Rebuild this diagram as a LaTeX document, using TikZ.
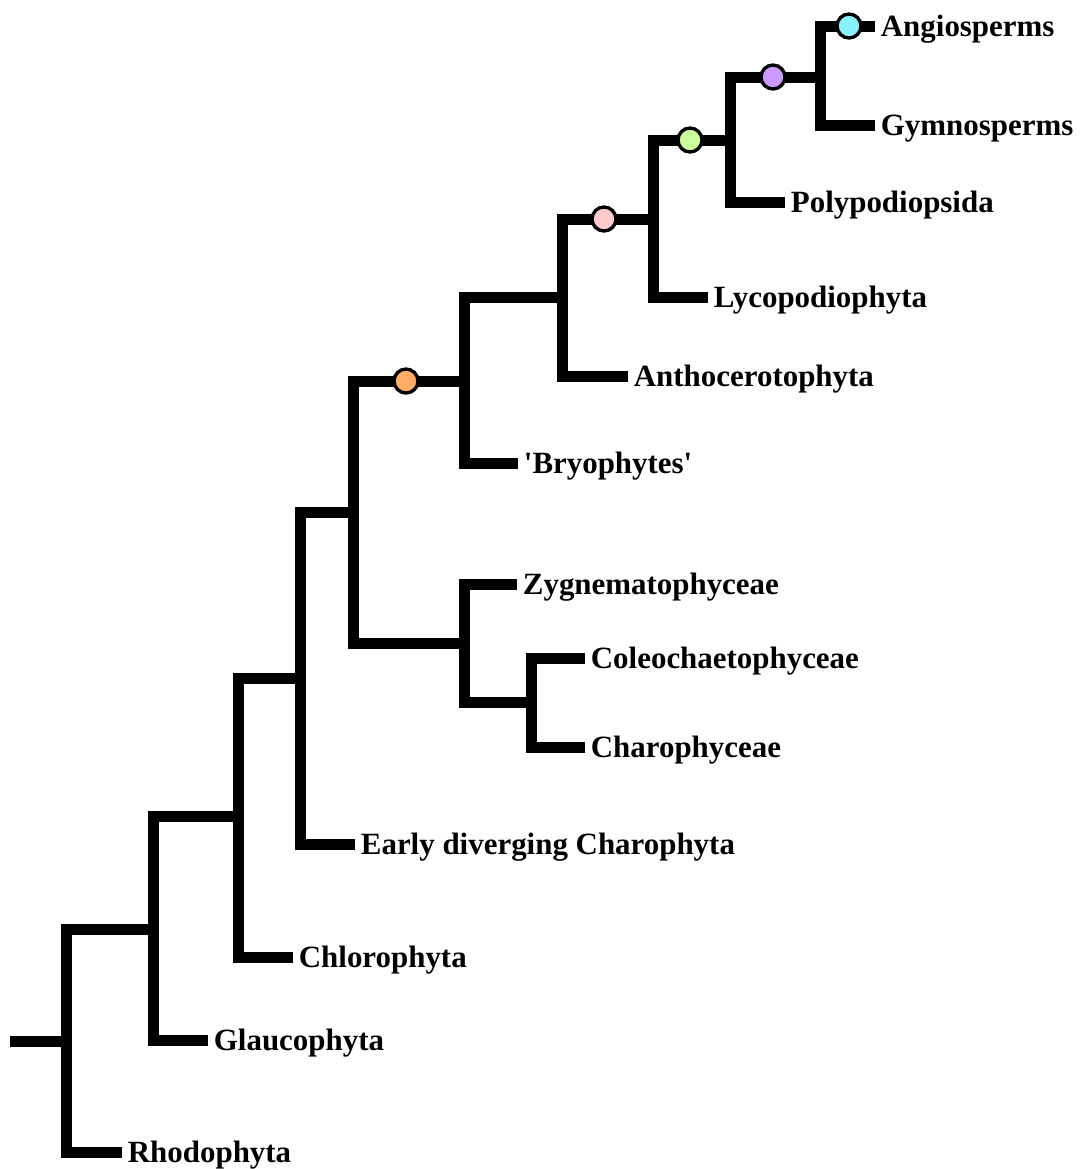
\documentclass[tikz,border=0pt]{standalone}
\usepackage{fontspec}
\setmainfont{Liberation Serif}
\usepackage{tikz}
\usetikzlibrary{calc}
\usepackage{xcolor}
\definecolor{AngioCyan}{RGB}{136,242,250}
\definecolor{SeedPurple}{RGB}{204,153,255}
\definecolor{FernGreen}{RGB}{204,255,153}
\definecolor{VascPink}{RGB}{255,204,204}
\definecolor{LandOrange}{RGB}{255,172,102}
\tikzset{
	branch/.style={black, line width=0.33cm, line join=miter},
	taxon/.style={anchor=west, inner xsep=0.17cm, inner ysep=0pt,
		text height=17.5pt, text depth=0pt,
		font=\fontsize{26.4pt}{30pt}\selectfont\bfseries},
	trait/.style={circle, draw=black, line width=0.1cm,
		minimum size=0.72cm, inner sep=0pt},
}

\begin{document}
\begin{tikzpicture}[x=0.03cm, y=-0.03cm]
	\useasboundingbox (0,0) rectangle (1079,1169);
	
	% Internal nodes
	\coordinate (base) at (10,1041);
	\coordinate (R) at (66,1041);
	\coordinate (B) at (153,929);
	\coordinate (C) at (238,816);
	\coordinate (D) at (300,678);
	\coordinate (E) at (353,512);
	\coordinate (K) at (464,643);
	\coordinate (L) at (531,702);
	\coordinate (F) at (464,381);
	\coordinate (G) at (562,297);
	\coordinate (H) at (653,219);
	\coordinate (I) at (730,140);
	\coordinate (J) at (820,77);
	
	% Taxa
	\node[taxon] (rho) at (122,1152) {Rhodophyta};
	\node[taxon] (gla) at (208,1040) {Glaucophyta};
	\node[taxon] (chl) at (293,957) {Chlorophyta};
	\node[taxon] (edc) at (355,844) {Early diverging Charophyta};
	\node[taxon] (zyg) at (517,584) {Zygnematophyceae};
	\node[taxon] (col) at (585,658) {Coleochaetophyceae};
	\node[taxon] (cha) at (585,747) {Charophyceae};
	\node[taxon] (bry) at (518,463) {\textquotesingle Bryophytes\textquotesingle};
	\node[taxon] (ant) at (628,376) {Anthocerotophyta};
	\node[taxon] (lyc) at (708,297) {Lycopodiophyta};
	\node[taxon] (pol) at (785,202) {Polypodiopsida};
	\node[taxon] (gym) at (875,125) {Gymnosperms};
	\node[taxon] (ang) at (875,26) {Angiosperms};
	
	% Branches
	\draw[branch] (base) -- (R);
	\draw[branch] (R) |- (rho.west);
	\draw[branch] (R) |- (B);
	\draw[branch] (B) |- (gla.west);
	\draw[branch] (B) |- (C);
	\draw[branch] (C) |- (chl.west);
	\draw[branch] (C) |- (D);
	\draw[branch] (D) |- (edc.west);
	\draw[branch] (D) |- (E);
	\draw[branch] (E) |- (K);
	\draw[branch] (K) |- (zyg.west);
	\draw[branch] (K) |- (L);
	\draw[branch] (L) |- (col.west);
	\draw[branch] (L) |- (cha.west);
	\draw[branch] (E) |- (F);
	\draw[branch] (F) |- (bry.west);
	\draw[branch] (F) |- (G);
	\draw[branch] (G) |- (ant.west);
	\draw[branch] (G) |- (H);
	\draw[branch] (H) |- (lyc.west);
	\draw[branch] (H) |- (I);
	\draw[branch] (I) |- (pol.west);
	\draw[branch] (I) |- (J);
	\draw[branch] (J) |- (gym.west);
	\draw[branch] (J) |- (ang.west);
	
	% Character marks
	\node[trait, fill=LandOrange] (m1) at (406,381) {};
	\node[trait, fill=VascPink] (m2) at (604,219) {};
	\node[trait, fill=FernGreen] (m3) at (690,140) {};
	\node[trait, fill=SeedPurple] (m4) at (773,77) {};
	\node[trait, fill=AngioCyan] (m5) at (849,26) {};
	
\end{tikzpicture}
\end{document}
